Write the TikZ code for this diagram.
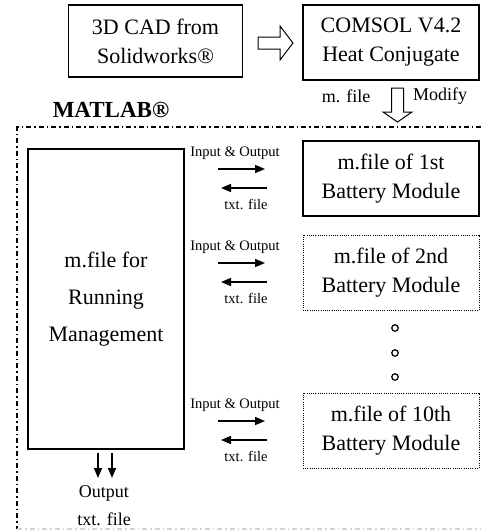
\documentclass[tikz,border=0pt]{standalone}
\usepackage{fontspec}
\setmainfont{Liberation Serif}
\usetikzlibrary{arrows.meta}
\begin{document}
\begin{tikzpicture}[x=1pt,y=-1pt,
 box/.style={draw, line width=1.2pt, minimum width=176pt, minimum height=75pt, inner sep=0pt, align=center, font=\fontsize{22}{29}\selectfont},
 dbox/.style={box, line width=0.9pt, dash pattern=on 1pt off 1.2pt},
 small/.style={font=\fontsize{14.5}{16}\selectfont, inner sep=0pt},
 mid/.style={font=\fontsize{18}{20}\selectfont, inner sep=0pt},
 arr/.style={line width=1.6pt, -{Triangle[length=10pt,width=8pt]}},
 hollow/.style={draw, line width=1pt, fill=white},
 frameline/.style={line width=1.2pt, dash pattern=on 5pt off 3pt on 1.5pt off 3pt},
 ring/.style={draw, circle, line width=1.2pt, minimum size=6.5pt, inner sep=0pt}]
\useasboundingbox (0,0) rectangle (481,531);
% frame
\coordinate (ftl) at (17,127);
\coordinate (ftr) at (481,127);
\coordinate (fbl) at (17,529);
\coordinate (fbr) at (481,529);
\draw[frameline] (ftr) -- (ftl) -- (fbl);
\draw[frameline, gray!35] (fbl) -- (fbr);
% top boxes
\node[box, minimum width=174pt, minimum height=72pt] (cad) at (155.5,41) {3D CAD from\\Solidworks®};
\node[box] (comsol) at (391,42.5) {COMSOL V4.2\\Heat Conjugate};
\draw[hollow] (258,37) -- (280,37) -- (280,26) -- (293,43) -- (280,60) -- (280,49) -- (258,49) -- cycle;
\draw[hollow] (391.5,88) -- (403.5,88) -- (403.5,112) -- (412,112) -- (397.5,122) -- (383,112) -- (391.5,112) -- cycle;
\node[mid] (mfile) at (346,96) {m. file};
\node[mid] (modify) at (440,96) {Modify};
\node[font=\bfseries\fontsize{23}{25}\selectfont, inner sep=0pt] (matlab) at (111,110) {MATLAB®};
% main boxes
\node[box, minimum width=156pt, minimum height=300pt, font=\fontsize{22}{37}\selectfont] (run) at (106,299) {m.file for\\Running\\Management};
\node[box] (m1) at (391,178.5) {m.file of 1st\\Battery Module};
\node[dbox] (m2) at (391,272.5) {m.file of 2nd\\Battery Module};
\node[dbox] (m10) at (391,430.5) {m.file of 10th\\Battery Module};
% rows
\foreach \c/\n in {178.5/a,272.5/b,430.5/c}{
  \node[small] (io\n) at (235,\c-25.5) {Input \& Output};
  \node[small] (tf\n) at (246,\c+26) {txt. file};
  \coordinate (rs\n) at (218,\c-9.5);
  \coordinate (re\n) at (265,\c-9.5);
  \coordinate (ls\n) at (267,\c+9.5);
  \coordinate (le\n) at (221,\c+9.5);
  \draw[arr] (rs\n) -- (re\n);
  \draw[arr] (ls\n) -- (le\n);
}
% dots
\node[ring] (d1) at (395,328) {};
\node[ring] (d2) at (395,353) {};
\node[ring] (d3) at (395,377) {};
% output
\coordinate (o1s) at (98,453);
\coordinate (o1e) at (98,478);
\coordinate (o2s) at (112,453);
\coordinate (o2e) at (112,478);
\draw[arr] (o1s) -- (o1e);
\draw[arr] (o2s) -- (o2e);
\node[mid] (out) at (104,493) {Output};
\node[mid] (outf) at (104,519) {txt. file};
\end{tikzpicture}
\end{document}
